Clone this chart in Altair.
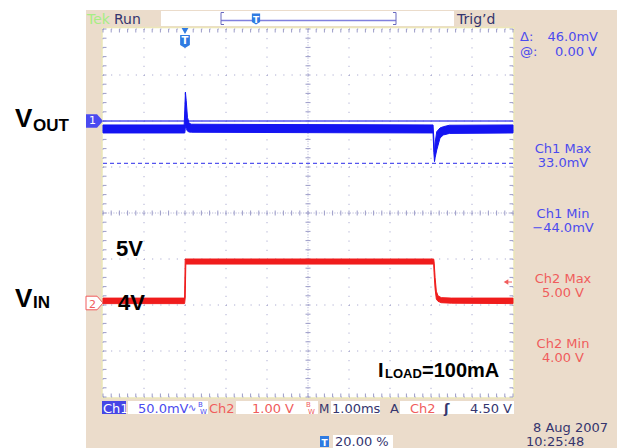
import altair as alt
import pandas as pd

# ---------------- data ----------------
# Ch1 (VOUT, 50 mV/div): noise band upper / lower edge in mV
CH1_T  = [-2.0, -0.02, -0.005, 0.01, 0.03, 0.06, 0.10, 0.16, 2.0, 4.0, 6.05, 6.07, 6.085, 6.10, 6.14, 6.22, 6.30, 6.45, 8.0]
CH1_HI = [-4.3, -4.3, 12.0, 31.5, 22.0, 4.0, -2.5, -3.5, -3.8, -4.0, -4.3, -20.0, -38.0, -24.0, -11.6, -7.6, -6.2, -4.6, -4.3]
CH1_LO = [-13.0, -13.0, -13.0, -6.0, -8.0, -11.0, -12.0, -12.2, -12.5, -12.8, -13.0, -34.0, -44.2, -40.0, -31.5, -18.5, -15.2, -13.5, -13.0]

# Ch2 (VIN, 1 V/div): noise band upper / lower edge in V
CH2_T  = [-2.0, -0.01, 0.005, 0.02, 3.0, 6.065, 6.075, 6.10, 6.13, 6.17, 6.25, 6.5, 8.0]
CH2_HI = [4.15, 4.15, 5.0, 5.0, 5.0, 5.0, 4.95, 4.6, 4.3, 4.2, 4.16, 4.15, 4.15]
CH2_LO = [4.03, 4.03, 4.15, 4.89, 4.89, 4.89, 4.7, 4.35, 4.13, 4.08, 4.05, 4.04, 4.03]

CURSOR_MV = [0.0, -46.0]          # Δ: 46.0 mV, @: 0.00 V
TRIG_LEVEL_V = 4.5
X_DIVS = list(range(-2, 9))       # ms, 1.00 ms/div, trigger at 20 %
Y_DIVS = list(range(-4, 5))
MINOR_T = [round(-2 + 0.2 * i, 1) for i in range(51)]
MINOR_Y = [round(-4 + 0.2 * i, 1) for i in range(41)]

CH1_MV_PER_DIV, CH1_POS_DIV = 50.0, 2.0
CH2_V_PER_DIV, CH2_POS_DIV = 1.0, -6.0

# ---------------- layout / style ----------------
OX, OY, W, H = 103, 29, 410, 368
BEIGE = "#ebdccb"
BLUE_TRACE = "#1414f2"
RED_TRACE = "#f01c1c"
BLUE_TXT = "#4b4bee"
RED_TXT = "#f05c5c"
NAVY = "#35356e"
GRID = "#9c9cc8"
CURSOR = "#5555ee"
TBLUE = "#2f7be2"
UI = "DejaVu Sans"
BOLD = "Liberation Sans"

XS = alt.Scale(domain=[-2, 8], nice=False, zero=False)
YS = alt.Scale(domain=[-4, 4], nice=False, zero=False)
ONE = pd.DataFrame({"k": [0]})


def P(x):
    return x - OX


def Q(y):
    return y - OY


def text(s, X, Y, color, size=13, weight="normal", align="left", font=UI):
    return alt.Chart(ONE).mark_text(
        text=s, align=align, baseline="alphabetic", font=font,
        fontSize=size, fontWeight=weight, color=color
    ).encode(x=alt.value(P(X)), y=alt.value(Q(Y)))


def box(X1, Y1, X2, Y2, fill, stroke=None, sw=1.0):
    kw = dict(fill=fill, opacity=1)
    if stroke:
        kw.update(stroke=stroke, strokeWidth=sw)
    else:
        kw.update(strokeWidth=0)
    return alt.Chart(ONE).mark_rect(**kw).encode(
        x=alt.value(P(X1)), x2=alt.value(P(X2)), y=alt.value(Q(Y1)), y2=alt.value(Q(Y2)))


def seg(X1, Y1, X2, Y2, color, sw=1.0):
    return alt.Chart(ONE).mark_rule(color=color, strokeWidth=sw).encode(
        x=alt.value(P(X1)), x2=alt.value(P(X2)), y=alt.value(Q(Y1)), y2=alt.value(Q(Y2)))


layers = []

# panels
layers.append(box(86, 10, 617, 448, BEIGE))
layers.append(box(161, 11, 454, 26, "white"))
layers.append(box(102, 27.5, 514, 398, "white", stroke="#ece6b8", sw=1.5))

# grid: division lines
xdf = pd.DataFrame({"t": [v for v in X_DIVS if v != 3]})
ydf = pd.DataFrame({"d": [v for v in Y_DIVS if v != 0]})
layers.append(alt.Chart(xdf).mark_rule(color=GRID, strokeWidth=1, strokeDash=[1, 8.2]).encode(
    x=alt.X("t:Q", scale=XS, axis=None), y=alt.value(0), y2=alt.value(H)))
layers.append(alt.Chart(ydf).mark_rule(color=GRID, strokeWidth=1, strokeDash=[1, 7.2]).encode(
    y=alt.Y("d:Q", scale=YS, axis=None), x=alt.value(0), x2=alt.value(W)))
# center cross: dense dotted
cx = pd.DataFrame({"t": [3]})
cy = pd.DataFrame({"d": [0]})
layers.append(alt.Chart(cx).mark_rule(color=GRID, strokeWidth=1, strokeDash=[1, 1.6], opacity=0.8).encode(
    x=alt.X("t:Q", scale=XS, axis=None), y=alt.value(0), y2=alt.value(H)))
layers.append(alt.Chart(cy).mark_rule(color=GRID, strokeWidth=1, strokeDash=[1, 1.6], opacity=0.8).encode(
    y=alt.Y("d:Q", scale=YS, axis=None), x=alt.value(0), x2=alt.value(W)))
# minor ticks on center cross and border
mt = pd.DataFrame({"t": MINOR_T})
my = pd.DataFrame({"d": MINOR_Y})
for (a, b) in [(H / 2 - 2.5, H / 2 + 2.5), (0, 3.5), (H - 3.5, H)]:
    layers.append(alt.Chart(mt).mark_rule(color=GRID, strokeWidth=1).encode(
        x=alt.X("t:Q", scale=XS, axis=None), y=alt.value(a), y2=alt.value(b)))
for (a, b) in [(W / 2 - 2.5, W / 2 + 2.5), (0, 3.5), (W - 3.5, W)]:
    layers.append(alt.Chart(my).mark_rule(color=GRID, strokeWidth=1).encode(
        y=alt.Y("d:Q", scale=YS, axis=None), x=alt.value(a), x2=alt.value(b)))

# cursors (Ch1)
cur = pd.DataFrame({"c": [CH1_POS_DIV + v / CH1_MV_PER_DIV for v in CURSOR_MV]})
layers.append(alt.Chart(cur.iloc[[0]]).mark_rule(color=CURSOR, strokeWidth=1.5).encode(
    y=alt.Y("c:Q", scale=YS, axis=None), x=alt.value(0), x2=alt.value(W)))
layers.append(alt.Chart(cur.iloc[[1]]).mark_rule(color=CURSOR, strokeWidth=1.2, strokeDash=[4, 3]).encode(
    y=alt.Y("c:Q", scale=YS, axis=None), x=alt.value(0), x2=alt.value(W)))

# traces
ch1 = pd.DataFrame({"t": CH1_T,
                    "hi": [CH1_POS_DIV + v / CH1_MV_PER_DIV for v in CH1_HI],
                    "lo": [CH1_POS_DIV + v / CH1_MV_PER_DIV for v in CH1_LO]})
ch2 = pd.DataFrame({"t": CH2_T,
                    "hi": [CH2_POS_DIV + v / CH2_V_PER_DIV for v in CH2_HI],
                    "lo": [CH2_POS_DIV + v / CH2_V_PER_DIV for v in CH2_LO]})
for df, col in [(ch1, BLUE_TRACE), (ch2, RED_TRACE)]:
    layers.append(alt.Chart(df).mark_area(color=col, opacity=1, stroke=col, strokeWidth=1,
                                          interpolate="linear").encode(
        x=alt.X("t:Q", scale=XS, axis=None),
        y=alt.Y("hi:Q", scale=YS, axis=None),
        y2="lo:Q"))

# channel reference markers on the left
PENT = "M-1,-0.8L0.3,-0.8L1,0L0.3,0.8L-1,0.8Z"
m1 = pd.DataFrame({"d": [CH1_POS_DIV]})
layers.append(alt.Chart(m1).mark_point(shape=PENT, size=289, filled=True, fill="#4a4af0",
                                       opacity=1, strokeWidth=0).encode(
    x=alt.value(P(94.5)), y=alt.Y("d:Q", scale=YS, axis=None)))
layers.append(alt.Chart(m1).mark_text(text="1", color="white", font=UI, fontSize=11,
                                      align="center", baseline="middle").encode(
    x=alt.value(P(92.5)), y=alt.Y("d:Q", scale=YS, axis=None)))
layers.append(alt.Chart(ONE).mark_point(shape=PENT, size=289, filled=True, fill="white",
                                        stroke=RED_TXT, strokeWidth=1, opacity=1).encode(
    x=alt.value(P(94.5)), y=alt.value(Q(303))))
layers.append(text("2", 92.5, 307.5, RED_TXT, size=11, align="center"))

# trigger level arrow (Ch2 4.50 V)
tl = pd.DataFrame({"d": [CH2_POS_DIV + TRIG_LEVEL_V / CH2_V_PER_DIV]})
layers.append(alt.Chart(tl).mark_point(shape="triangle-left", size=28, filled=True,
                                       color=RED_TXT, opacity=1).encode(
    x=alt.value(P(506)), y=alt.Y("d:Q", scale=YS, axis=None)))
layers.append(alt.Chart(tl).mark_rule(color=RED_TXT, strokeWidth=1).encode(
    x=alt.value(P(506)), x2=alt.value(P(512)), y=alt.Y("d:Q", scale=YS, axis=None)))

# trigger position marker (t = 0)
SHIELD = "M-0.75,-1L0.75,-1L0.75,0.55L0,1L-0.75,0.55Z"
t0 = pd.DataFrame({"t": [0.0]})
layers.append(alt.Chart(t0).mark_point(shape="triangle-down", size=45, filled=True,
                                       color=TBLUE, opacity=1).encode(
    x=alt.X("t:Q", scale=XS, axis=None), y=alt.value(Q(31))))
layers.append(alt.Chart(t0).mark_point(shape=SHIELD, size=169, filled=True,
                                       color=TBLUE, opacity=1).encode(
    x=alt.X("t:Q", scale=XS, axis=None), y=alt.value(Q(41.5))))
layers.append(alt.Chart(t0).mark_text(text="T", color="white", font=UI, fontSize=10,
                                      fontWeight="bold", align="center", baseline="middle").encode(
    x=alt.X("t:Q", scale=XS, axis=None), y=alt.value(Q(41))))

# top status bar
layers.append(text("Tek", 87, 24, "#a6ee84", size=14))
layers.append(text("Run", 114, 24, NAVY, size=14))
layers.append(text("Trig’d", 457, 24, NAVY, size=14))
layers.append(seg(221, 20.5, 396, 20.5, "#8080dd", 1.5))
layers.append(seg(221, 12.5, 221, 24.5, "#6a6ac0", 1))
layers.append(seg(396, 12.5, 396, 24.5, "#6a6ac0", 1))
layers.append(seg(221, 12.5, 224, 12.5, "#6a6ac0", 1))
layers.append(seg(221, 24.5, 224, 24.5, "#6a6ac0", 1))
layers.append(seg(393, 12.5, 396, 12.5, "#6a6ac0", 1))
layers.append(seg(393, 24.5, 396, 24.5, "#6a6ac0", 1))
layers.append(alt.Chart(ONE).mark_point(shape=SHIELD, size=121, filled=True, color=TBLUE,
                                        opacity=1).encode(x=alt.value(P(256)), y=alt.value(Q(19))))
layers.append(text("T", 256, 23, "white", size=9, weight="bold", align="center"))

# right readouts
layers.append(text("Δ:", 520, 41, BLUE_TXT))
layers.append(text("46.0mV", 598, 41, BLUE_TXT, align="right"))
layers.append(text("@:", 520, 56, BLUE_TXT))
layers.append(text("0.00 V", 597, 56, BLUE_TXT, align="right"))
layers.append(text("Ch1 Max", 563, 153, BLUE_TXT, align="center"))
layers.append(text("33.0mV", 563, 167, BLUE_TXT, align="center"))
layers.append(text("Ch1 Min", 563, 218, BLUE_TXT, align="center"))
layers.append(text("−44.0mV", 563, 232, BLUE_TXT, align="center"))
layers.append(text("Ch2 Max", 563, 283, RED_TXT, align="center"))
layers.append(text("5.00 V", 563, 297, RED_TXT, align="center"))
layers.append(text("Ch2 Min", 563, 348, RED_TXT, align="center"))
layers.append(text("4.00 V", 563, 362, RED_TXT, align="center"))
layers.append(text("8 Aug 2007", 533, 432, NAVY))
layers.append(text("10:25:48", 526, 446, NAVY))

# bottom status bar
layers.append(box(102, 401, 126, 414, "#4646e6"))
layers.append(text("Ch1", 103, 412.5, "white"))
layers.append(box(128, 401, 208, 414, "white"))
layers.append(text("50.0mV", 138, 412.5, BLUE_TXT))
layers.append(text("∿", 188, 411, BLUE_TXT, size=10))
layers.append(text("B", 198, 407, BLUE_TXT, size=7))
layers.append(text("W", 200, 413.5, BLUE_TXT, size=7))
layers.append(text("Ch2", 209, 412.5, RED_TXT))
layers.append(box(236, 401, 318, 414, "white"))
layers.append(text("1.00 V", 252, 412.5, RED_TXT))
layers.append(text("B", 306, 407, RED_TXT, size=7))
layers.append(text("W", 308, 413.5, RED_TXT, size=7))
layers.append(text("M", 319, 412.5, NAVY, size=12))
layers.append(box(331, 401, 380, 414, "white"))
layers.append(text("1.00ms", 332, 412.5, NAVY))
layers.append(text("A", 390, 412.5, NAVY))
layers.append(box(400, 401, 514, 414, "white"))
layers.append(text("Ch2", 410, 412.5, RED_TXT))
layers.append(text("ʃ", 444, 412.5, NAVY, weight="bold"))
layers.append(text("4.50 V", 512, 412.5, NAVY, align="right"))

# bottom trigger position readout
layers.append(box(320, 436, 329, 447, TBLUE))
layers.append(text("T", 324.5, 445.5, "white", size=9, weight="bold", align="center"))
layers.append(box(333, 435, 393, 448, "white"))
layers.append(text("20.00 %", 335, 446, NAVY))

# annotations
layers.append(text("V", 15, 127, "black", size=26, weight="bold", font=BOLD))
layers.append(text("OUT", 33, 131, "black", size=17, weight="bold", font=BOLD))
layers.append(text("V", 15, 307, "black", size=26, weight="bold", font=BOLD))
layers.append(text("IN", 33, 308, "black", size=17, weight="bold", font=BOLD))
layers.append(text("5V", 116, 256, "black", size=22, weight="bold", font=BOLD))
layers.append(text("4V", 118, 310, "black", size=22, weight="bold", font=BOLD))
layers.append(text("I", 378, 377, "black", size=20, weight="bold", font=BOLD))
layers.append(text("LOAD", 385, 378, "black", size=13, weight="bold", font=BOLD))
layers.append(text("=100mA", 422, 377, "black", size=20, weight="bold", font=BOLD))

chart = alt.layer(*layers).properties(
    width=W, height=H,
    padding={"left": OX, "top": OY, "right": 617 - OX - W, "bottom": 448 - OY - H},
    autosize=alt.AutoSizeParams(type="none"),
    background="white",
).configure_view(stroke=None)

chart.save("out.html", embed_options={"renderer": "svg", "actions": False})
